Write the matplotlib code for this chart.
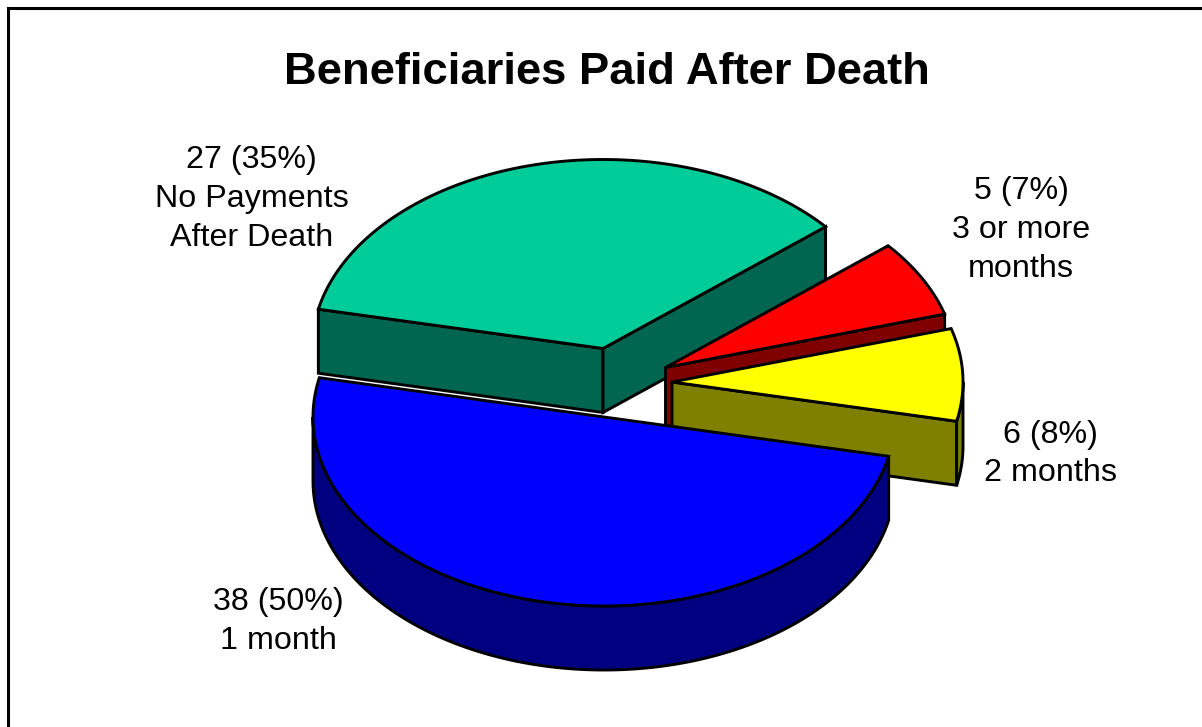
import numpy as np
import matplotlib
matplotlib.use("Agg")
import matplotlib.pyplot as plt
from matplotlib.patches import Polygon

title = "Beneficiaries Paid After Death"
labels = ["No Payments\nAfter Death", "3 or more\nmonths", "2 months", "1 month"]
counts = [27, 5, 6, 38]
percents = [35, 7, 8, 50]
top_colors = ["#00CC99", "#FF0000", "#FFFF00", "#0000FF"]
side_colors = ["#006650", "#800000", "#808000", "#000080"]
centers = [(603, 348.5), (665.5, 367.5), (672, 382), (604, 417)]
label_pos = [(251.5, 199), (1021, 230), (1050, 454), (278, 621.5)]

START = 168.0
RX, RY, DEPTH = 291.0, 189.0, 64.0

plt.rcParams["font.family"] = ["Liberation Sans", "DejaVu Sans"]
fig = plt.figure(figsize=(12.02, 7.27), dpi=100)
ax = fig.add_axes([0, 0, 1, 1])
ax.set_xlim(0, 1202)
ax.set_ylim(727, 0)
ax.axis("off")

ax.plot([7.5, 7.5, 1202], [727, 7.5, 7.5], color="black", lw=2.2, solid_joinstyle="miter")


def arc(c, a1, a2, dy=0.0):
    t = np.radians(np.linspace(a1, a2, 160))
    return np.column_stack([c[0] + RX * np.cos(t), c[1] - RY * np.sin(t) + dy])


def face(pts, color, z):
    ax.add_patch(Polygon(pts, closed=True, facecolor=color, edgecolor="black",
                         lw=2.1, joinstyle="miter", zorder=z))


def cut(c, a, color, z):
    p = arc(c, a, a)[0]
    face(np.array([c, p, p + [0, DEPTH], (c[0], c[1] + DEPTH)]), color, z)


total = sum(counts)
angle = START
for i, v in enumerate(counts):
    a1 = angle
    a2 = angle - 360.0 * v / total
    angle = a2
    c = centers[i]
    z = 2 + i * 2
    # cut faces that look toward the viewer
    if np.cos(np.radians(a1)) < 0:
        cut(c, a1, side_colors[i], z)
    if np.cos(np.radians(a2)) > 0:
        cut(c, a2, side_colors[i], z)
    # outer wall: only the part of the rim on the front of the ellipse
    wall_hi = min(a1, 0.0)
    wall_lo = max(a2, -180.0)
    if wall_hi > wall_lo:
        face(np.vstack([arc(c, wall_hi, wall_lo), arc(c, wall_lo, wall_hi, DEPTH)]),
             side_colors[i], z)
    # top surface
    face(np.vstack([[c], arc(c, a1, a2)]), top_colors[i], z + 1)
    x, y = label_pos[i]
    ax.text(x, y, f"{v} ({percents[i]}%)\n{labels[i]}", ha="center", va="center",
            fontsize=23.2, linespacing=1.37, color="black", zorder=20)

ax.text(606.5, 72.5, title, ha="center", va="center", fontsize=32.7, fontweight="bold", color="black")

fig.savefig("out.png", dpi=100, facecolor="white")
